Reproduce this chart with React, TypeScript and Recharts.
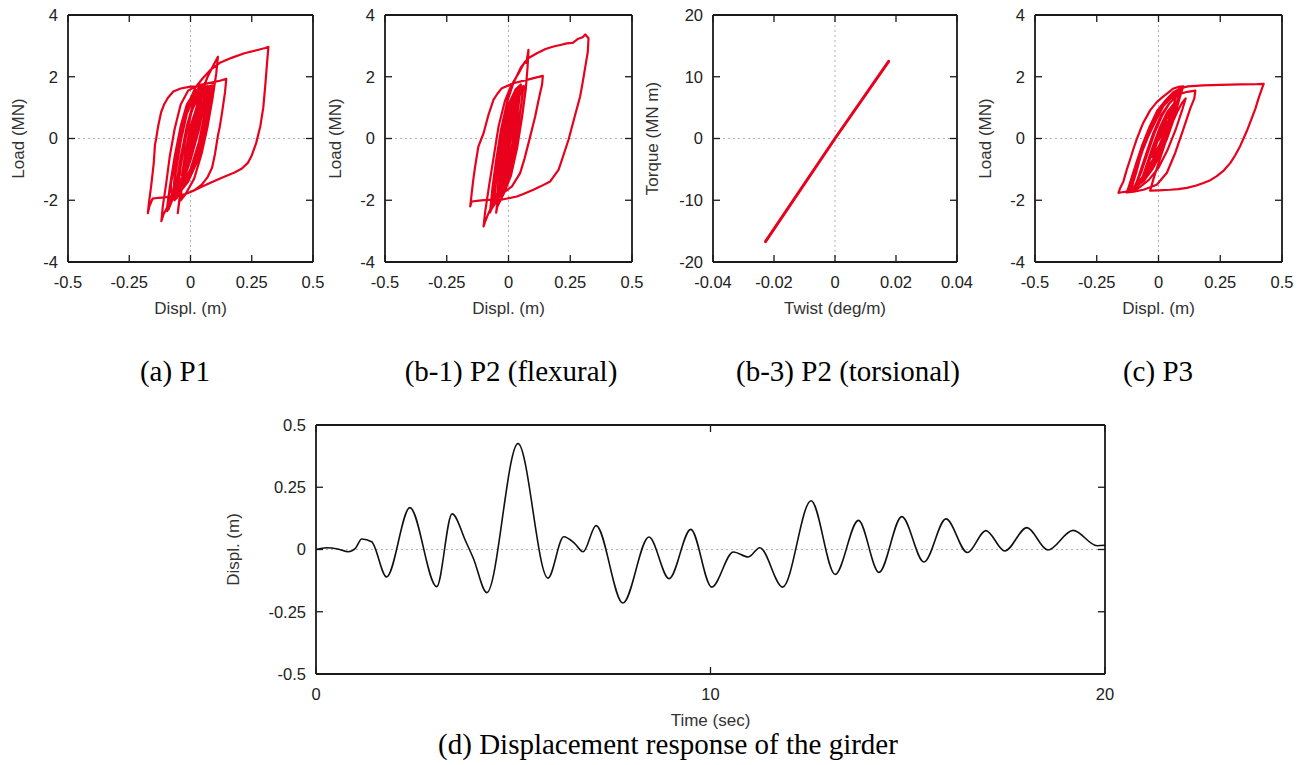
import React from 'react';
import { LineChart, Line, XAxis, YAxis, ReferenceLine } from 'recharts';

type Pt = [number, number];

const SANS = '"Liberation Sans", Arial, Helvetica, sans-serif';
const SERIF = '"Liberation Serif", "Times New Roman", serif';
const RED = '#e8001c';

// Tick values
const DISPL_TICKS = [-0.5, -0.25, 0, 0.25, 0.5];
const LOAD_TICKS = [-4, -2, 0, 2, 4];
const TWIST_TICKS = [-0.04, -0.02, 0, 0.02, 0.04];
const TORQUE_TICKS = [-20, -10, 0, 10, 20];
const TIME_TICKS = [0, 10, 20];
const GIRDER_TICKS = [-0.5, -0.25, 0, 0.25, 0.5];

// (a) P1 load-displacement path [displ (m), load (MN)]
const p1Path: Pt[] = [
  [0, 0], [0.012, 0.35], [-0.006, -0.2], [0.02, 0.55], [0.005, 0.1],
  [0.03, 0.9], [0.05, 1.4], [0.065, 1.6],
  [0.055, 1.1], [0.035, 0.3], [0, -0.7], [-0.03, -1.4], [-0.055, -1.8], [-0.065, -2.0],
  [-0.058, -1.5], [-0.04, -0.6], [-0.015, 0.4], [0.015, 1.1], [0.045, 1.55], [0.06, 1.65],
  [0.05, 1.0], [0.025, 0], [-0.01, -0.9], [-0.045, -1.6], [-0.075, -2.0], [-0.09, -2.3], [-0.095, -2.2],
  [-0.085, -1.6], [-0.065, -0.7], [-0.04, 0.3], [-0.01, 1.1], [0.02, 1.65], [0.05, 1.95], [0.085, 2.25],
  [0.12, 2.45], [0.17, 2.62], [0.22, 2.76], [0.27, 2.86], [0.305, 2.93], [0.318, 2.97],
  [0.313, 2.5], [0.305, 1.7], [0.297, 1.0], [0.285, 0.4], [0.268, -0.15], [0.25, -0.55], [0.235, -0.78],
  [0.21, -0.97], [0.18, -1.1], [0.14, -1.23], [0.1, -1.37], [0.05, -1.55], [0.01, -1.7], [-0.02, -1.8],
  [-0.05, -1.85], [-0.058, -1.95],
  [-0.05, -1.4], [-0.035, -0.5], [-0.015, 0.4], [0.01, 1.1], [0.035, 1.55], [0.06, 1.65], [0.08, 1.68],
  [0.07, 1.0], [0.05, 0.1], [0.02, -0.8], [-0.02, -1.5], [-0.06, -1.85], [-0.1, -1.9], [-0.13, -1.92],
  [-0.155, -1.95], [-0.168, -2.2], [-0.174, -2.42],
  [-0.17, -2.1], [-0.16, -1.5], [-0.15, -0.8], [-0.145, -0.2], [-0.14, 0], [-0.132, 0.4], [-0.12, 0.85],
  [-0.108, 1.1], [-0.092, 1.32], [-0.07, 1.52], [-0.04, 1.62], [0, 1.68], [0.04, 1.69], [0.08, 1.7],
  [0.07, 1.1], [0.05, 0.2], [0.02, -0.7], [-0.02, -1.4], [-0.06, -1.85], [-0.09, -2.15], [-0.11, -2.45], [-0.119, -2.68],
  [-0.113, -2.2], [-0.1, -1.5], [-0.085, -0.6], [-0.065, 0.3], [-0.04, 1.1], [-0.01, 1.55], [0.03, 1.72],
  [0.08, 1.8], [0.12, 1.87], [0.146, 1.93],
  [0.141, 1.5], [0.13, 0.9], [0.12, 0.4], [0.112, 0.1], [0.1, -0.5], [0.088, -0.95], [0.07, -1.25],
  [0.045, -1.5], [0.015, -1.68], [-0.02, -1.8], [-0.045, -1.95], [-0.052, -2.42],
  [-0.045, -2.0], [-0.03, -1.2], [-0.01, -0.3], [0.015, 0.6], [0.04, 1.4], [0.07, 2.0], [0.095, 2.4], [0.112, 2.65],
  [0.105, 2.1], [0.09, 1.3], [0.07, 0.4], [0.045, -0.5], [0.015, -1.3], [-0.02, -1.8], [-0.04, -2.0],
  [-0.035, -1.4], [-0.015, -0.4], [0.01, 0.6], [0.035, 1.3], [0.06, 1.6], [0.075, 1.65],
  [0.06, 0.9], [0.035, -0.1], [0, -1.0], [-0.04, -1.6], [-0.075, -1.85],
  [-0.08, -1.5], [-0.06, -0.5], [-0.035, 0.5], [0, 1.2], [0.04, 1.6], [0.09, 1.72],
  [0.08, 1.1], [0.06, 0.2], [0.03, -0.7], [-0.01, -1.4], [-0.05, -1.8], [-0.09, -2.05],
  [-0.08, -1.4], [-0.06, -0.4], [-0.03, 0.6], [0, 1.3], [0.03, 1.6], [0.07, 1.7],
  [0.065, 1.2], [0.05, 0.5], [0.03, -0.3], [0, -1.1], [-0.03, -1.6], [-0.07, -1.85],
  [-0.065, -1.2], [-0.045, -0.2], [-0.02, 0.7], [0.01, 1.3], [0.04, 1.6],
  [0.03, 0.8], [0.005, -0.3], [-0.03, -1.2], [-0.06, -1.7], [-0.085, -2.0], [-0.095, -2.35],
  [-0.085, -1.6], [-0.065, -0.6], [-0.04, 0.4], [-0.015, 1.1], [0.02, 1.55], [0.05, 1.68],
  [0.04, 0.9], [0.02, 0], [-0.01, -0.9], [-0.04, -1.5], [-0.07, -1.8],
  [-0.06, -1.1], [-0.04, -0.1], [-0.015, 0.8], [0.015, 1.35], [0.045, 1.55],
  [0.035, 0.7], [0.01, -0.3], [-0.02, -1.1], [-0.05, -1.6],
  [-0.04, -0.9], [-0.02, 0], [0.005, 0.9], [0.03, 1.3],
  [0.02, 0.5], [-0.005, -0.5], [-0.035, -1.2],
  [-0.02, -0.4], [0, 0.4], [0.025, 1.0],
  [0.01, 0.2], [-0.02, -0.7],
  [0, 0.1], [0.015, 0.6], [0, 0],
];

// (b-1) P2 flexural path [displ (m), load (MN)]
const p2FlexPath: Pt[] = [
  [0, 0], [0.01, 0.3], [-0.005, -0.15], [0.02, 0.6], [0.01, 0.3],
  [0.03, 1.0], [0.05, 1.5], [0.06, 1.65],
  [0.05, 1.0], [0.03, 0.2], [0, -0.8], [-0.03, -1.5], [-0.05, -1.9], [-0.06, -2.1],
  [-0.05, -1.4], [-0.035, -0.5], [-0.015, 0.4], [0.01, 1.1], [0.04, 1.55], [0.06, 1.7],
  [0.05, 1.0], [0.03, 0], [0, -1.0], [-0.03, -1.6], [-0.06, -2.1], [-0.075, -2.4],
  [-0.065, -1.6], [-0.05, -0.7], [-0.03, 0.3], [-0.005, 1.2], [0.02, 1.8], [0.05, 2.3], [0.08, 2.6],
  [0.115, 2.76], [0.15, 2.9], [0.182, 2.98], [0.21, 3.03], [0.236, 3.08], [0.26, 3.1], [0.28, 3.22],
  [0.3, 3.28], [0.311, 3.37], [0.324, 3.25],
  [0.321, 2.8], [0.311, 2.33], [0.3, 1.8], [0.29, 1.36], [0.27, 0.77], [0.243, -0.04], [0.22, -0.6],
  [0.203, -1.01], [0.169, -1.39], [0.13, -1.55], [0.101, -1.66], [0.06, -1.8], [0.034, -1.88],
  [-0.01, -1.95], [-0.04, -2.0],
  [-0.03, -1.3], [-0.015, -0.4], [0.005, 0.5], [0.03, 1.3], [0.055, 1.65], [0.07, 1.7],
  [0.06, 1.0], [0.04, 0.1], [0.01, -0.9], [-0.02, -1.6], [-0.05, -1.98], [-0.088, -1.99], [-0.12, -2.01],
  [-0.149, -2.04], [-0.155, -2.2],
  [-0.152, -2.0], [-0.149, -1.77], [-0.142, -1.3], [-0.135, -0.9], [-0.122, -0.26], [-0.101, 0.17],
  [-0.081, 0.77], [-0.061, 1.25], [-0.045, 1.45], [-0.027, 1.63], [0.02, 1.79], [0.074, 1.9], [0.11, 1.97], [0.139, 2.03],
  [0.136, 1.75], [0.128, 1.47], [0.118, 1.1], [0.108, 0.71], [0.081, -0.15], [0.065, -0.65], [0.047, -1.12],
  [0.014, -1.55], [-0.02, -1.75], [-0.06, -2.1], [-0.08, -2.4], [-0.095, -2.7], [-0.101, -2.85],
  [-0.095, -2.4], [-0.08, -1.6], [-0.06, -0.6], [-0.04, 0.4], [-0.015, 1.2], [0.01, 1.7], [0.04, 2.1],
  [0.06, 2.4], [0.068, 2.5], [0.072, 2.45], [0.081, 2.87],
  [0.077, 2.3], [0.07, 1.6], [0.055, 0.7], [0.035, -0.3], [0.01, -1.2], [-0.02, -1.8], [-0.045, -2.2], [-0.05, -2.4],
  [-0.04, -1.7], [-0.025, -0.8], [-0.005, 0.2], [0.02, 1.0], [0.045, 1.5], [0.07, 1.65],
  [0.058, 0.9], [0.04, 0], [0.015, -0.9], [-0.015, -1.6], [-0.045, -2.0], [-0.07, -2.3],
  [-0.06, -1.6], [-0.045, -0.7], [-0.025, 0.3], [0, 1.1], [0.03, 1.6], [0.05, 1.75],
  [0.04, 1.0], [0.02, 0], [-0.005, -0.9], [-0.035, -1.6], [-0.065, -2.1],
  [-0.055, -1.3], [-0.035, -0.3], [-0.01, 0.7], [0.02, 1.4], [0.045, 1.62],
  [0.035, 0.8], [0.015, -0.2], [-0.015, -1.1], [-0.045, -1.75],
  [-0.035, -0.9], [-0.015, 0.1], [0.01, 0.9], [0.035, 1.4],
  [0.025, 0.6], [0, -0.4], [-0.03, -1.3],
  [-0.015, -0.5], [0.005, 0.4], [0.025, 1.0],
  [0.01, 0.2], [-0.015, -0.7],
  [0, 0], [0.015, 0.5], [0.005, 0.1],
];

// (b-3) P2 torsional path [twist (deg/m), torque (MN m)]
const p2TorsPath: Pt[] = [
  [0, 0], [0.0176, 12.5], [0, 0], [-0.0228, -16.7], [0, 0],
];

// (c) P3 load-displacement path [displ (m), load (MN)]
const p3Path: Pt[] = [
  [0, 0], [0.01, 0.15], [-0.005, -0.08], [0.02, 0.35], [0.01, 0.2],
  [0.03, 0.6], [0.05, 0.95], [0.07, 1.2],
  [0.06, 0.9], [0.04, 0.4], [0, -0.4], [-0.04, -0.95], [-0.07, -1.3], [-0.09, -1.45],
  [-0.075, -1.1], [-0.05, -0.5], [-0.02, 0.2], [0.01, 0.75], [0.04, 1.1], [0.07, 1.35], [0.09, 1.45],
  [0.075, 1.0], [0.05, 0.35], [0.015, -0.4], [-0.025, -1.0], [-0.06, -1.38], [-0.1, -1.6], [-0.12, -1.68],
  [-0.105, -1.35], [-0.085, -0.9], [-0.065, -0.4], [-0.04, 0.1], [-0.01, 0.6], [0.02, 1.05], [0.05, 1.3],
  [0.08, 1.43], [0.11, 1.5], [0.149, 1.55],
  [0.145, 1.3], [0.128, 0.96], [0.101, 0.31], [0.068, -0.46], [0.034, -1.11], [-0.007, -1.5],
  [-0.061, -1.66], [-0.1, -1.72], [-0.128, -1.75],
  [-0.11, -1.3], [-0.09, -0.8], [-0.065, -0.2], [-0.035, 0.4], [-0.005, 0.9], [0.03, 1.25], [0.06, 1.5],
  [0.09, 1.63], [0.12, 1.69], [0.18, 1.72], [0.25, 1.74], [0.33, 1.75], [0.4, 1.76], [0.426, 1.77],
  [0.419, 1.62], [0.405, 1.3], [0.392, 0.96], [0.375, 0.6], [0.358, 0.25], [0.331, -0.24], [0.31, -0.55],
  [0.291, -0.79], [0.265, -1.03], [0.236, -1.22], [0.21, -1.35], [0.182, -1.44], [0.15, -1.53],
  [0.115, -1.6], [0.08, -1.64], [0.047, -1.66], [0, -1.68], [-0.034, -1.69],
  [-0.02, -1.3], [0, -0.8], [0.025, -0.2], [0.05, 0.4], [0.075, 0.85], [0.095, 1.15], [0.11, 1.3],
  [0.095, 0.9], [0.07, 0.3], [0.035, -0.4], [0, -0.95], [-0.04, -1.35], [-0.08, -1.6], [-0.101, -1.69],
  [-0.13, -1.72], [-0.155, -1.75], [-0.162, -1.76],
  [-0.155, -1.6], [-0.142, -1.39], [-0.13, -1.05], [-0.115, -0.68], [-0.1, -0.3], [-0.088, -0.02],
  [-0.075, 0.25], [-0.061, 0.52], [-0.045, 0.75], [-0.034, 0.91], [-0.007, 1.18], [0.015, 1.33],
  [0.034, 1.45], [0.061, 1.62], [0.08, 1.67], [0.1, 1.69],
  [0.085, 1.3], [0.065, 0.7], [0.035, 0], [-0.005, -0.7], [-0.045, -1.2], [-0.08, -1.5], [-0.11, -1.65],
  [-0.095, -1.2], [-0.075, -0.6], [-0.05, 0], [-0.02, 0.6], [0.01, 1.0], [0.04, 1.3], [0.07, 1.48], [0.09, 1.55],
  [0.075, 1.1], [0.05, 0.5], [0.015, -0.2], [-0.025, -0.9], [-0.06, -1.35], [-0.09, -1.58],
  [-0.11, -1.62], [-0.09, -1.1], [-0.07, -0.5], [-0.045, 0.1], [-0.015, 0.65], [0.02, 1.1], [0.055, 1.38], [0.085, 1.5],
  [0.07, 1.05], [0.045, 0.45], [0.01, -0.25], [-0.03, -0.95], [-0.07, -1.4], [-0.1, -1.6],
  [-0.07, -1.1], [-0.045, -0.5], [-0.015, 0.2], [0.015, 0.75], [0.045, 1.15], [0.07, 1.35],
  [0.055, 0.9], [0.03, 0.3], [-0.005, -0.4], [-0.04, -1.0], [-0.07, -1.38],
  [-0.05, -0.9], [-0.025, -0.3], [0.005, 0.35], [0.035, 0.85], [0.06, 1.1],
  [0.045, 0.6], [0.015, 0], [-0.02, -0.65], [-0.05, -1.05],
  [-0.03, -0.55], [0, 0.1], [0.03, 0.6], [0.05, 0.85],
  [0.035, 0.4], [0.005, -0.2], [-0.025, -0.6],
  [-0.005, -0.1], [0.02, 0.35], [0.035, 0.55],
  [0.02, 0.2], [0, -0.05],
];

// (d) Girder displacement time history
const girderTime = [
  0, 0.27, 0.55, 0.82, 1.0, 1.16, 1.41, 1.79, 2.38, 3.06, 3.45, 3.8, 3.99, 4.33, 5.12, 5.88,
  6.28, 6.56, 6.77, 7.1, 7.78, 8.44, 8.95, 9.5, 10.03, 10.58, 10.96, 11.25, 11.83, 12.55, 13.16,
  13.75, 14.27, 14.85, 15.41, 15.97, 16.51, 16.98, 17.46, 18.02, 18.55, 19.19, 19.8, 20,
];
const girderDispl = [
  0, 0.007, 0.002, -0.009, 0.005, 0.042, 0.031, -0.11, 0.168, -0.149, 0.143, 0.031, -0.036, -0.173, 0.425, -0.115,
  0.051, 0.024, -0.009, 0.096, -0.215, 0.05, -0.117, 0.081, -0.151, -0.01, -0.03, 0.007, -0.151, 0.196, -0.1,
  0.117, -0.092, 0.132, -0.05, 0.123, -0.012, 0.076, -0.006, 0.088, -0.002, 0.077, 0.015, 0.017,
];

const toRows = (p: Pt[]) => p.map(([x, y]) => ({ x, y }));
const girderRows = girderTime.map((t, i) => ({ x: t, y: girderDispl[i] }));

type PanelProps = {
  left: number;
  top: number;
  plotW: number;
  plotH: number;
  yAxisW: number;
  data: { x: number; y: number }[];
  xDomain: [number, number];
  xTicks: number[];
  yDomain: [number, number];
  yTicks: number[];
  xLabel: string;
  yLabel: string;
  yLabelDx: number;
  stroke: string;
  strokeWidth: number;
  curve: 'linear' | 'monotone';
  zeroX: boolean;
};

const FRAME_COLOR = '#1a1a1a';
const TICK_PX = 7;

function Panel(p: PanelProps) {
  const width = p.yAxisW + p.plotW + 16;
  const height = 15 + p.plotH + 68;
  const frame = { stroke: FRAME_COLOR, strokeWidth: 1.8 };
  const tickFont = { fill: '#222', fontSize: 16.5, fontFamily: SANS };
  const [x0, x1] = p.xDomain;
  const [y0, y1] = p.yDomain;
  const tx = ((x1 - x0) * TICK_PX) / p.plotW;
  const ty = ((y1 - y0) * TICK_PX) / p.plotH;
  const common = { xAxisId: 'b', yAxisId: 'l' } as const;
  const tickLines: React.ReactNode[] = [];
  p.xTicks.forEach((t, i) => {
    tickLines.push(
      <ReferenceLine key={`xb${i}`} {...common} segment={[{ x: t, y: y0 }, { x: t, y: y0 + ty }]} stroke={FRAME_COLOR} strokeWidth={1.3} />,
      <ReferenceLine key={`xt${i}`} {...common} segment={[{ x: t, y: y1 }, { x: t, y: y1 - ty }]} stroke={FRAME_COLOR} strokeWidth={1.3} />,
    );
  });
  p.yTicks.forEach((t, i) => {
    tickLines.push(
      <ReferenceLine key={`yl${i}`} {...common} segment={[{ x: x0, y: t }, { x: x0 + tx, y: t }]} stroke={FRAME_COLOR} strokeWidth={1.3} />,
      <ReferenceLine key={`yr${i}`} {...common} segment={[{ x: x1, y: t }, { x: x1 - tx, y: t }]} stroke={FRAME_COLOR} strokeWidth={1.3} />,
    );
  });
  return (
    <div style={{ position: 'absolute', left: p.left, top: p.top }}>
      <LineChart width={width} height={height} data={p.data} margin={{ top: 15, right: 16, left: 0, bottom: 0 }}>
        <XAxis
          xAxisId="b" type="number" dataKey="x" domain={p.xDomain} ticks={p.xTicks} interval={0}
          allowDataOverflow tickLine={false} tickSize={0} tickMargin={14} axisLine={frame} height={68}
          tick={tickFont}
          label={{ value: p.xLabel, position: 'center', dy: 12, fill: '#333', fontSize: 17, fontFamily: SANS }}
        />
        <YAxis
          yAxisId="l" type="number" domain={p.yDomain} ticks={p.yTicks} interval={0} allowDataOverflow
          tickLine={false} tickSize={0} tickMargin={10} axisLine={frame} width={p.yAxisW} tick={tickFont}
          label={{ value: p.yLabel, angle: -90, position: 'center', dx: p.yLabelDx, fill: '#333', fontSize: 17, fontFamily: SANS }}
        />
        {p.zeroX && (
          <ReferenceLine {...common} x={0} stroke="#b0b0b0" strokeWidth={1} strokeDasharray="2 3" />
        )}
        <ReferenceLine {...common} y={0} stroke="#b0b0b0" strokeWidth={1} strokeDasharray="2 3" />
        {tickLines}
        <ReferenceLine {...common} x={x1} stroke={FRAME_COLOR} strokeWidth={1.8} />
        <ReferenceLine {...common} y={y1} stroke={FRAME_COLOR} strokeWidth={1.8} />
        <Line
          {...common} dataKey="y" type={p.curve} stroke={p.stroke} strokeWidth={p.strokeWidth}
          dot={false} activeDot={false} isAnimationActive={false} strokeLinejoin="round" strokeLinecap="round"
        />
      </LineChart>
    </div>
  );
}

function Caption({ text, cx, top }: { text: string; cx: number; top: number }) {
  return (
    <div
      style={{
        position: 'absolute', left: cx - 300, top, width: 600, textAlign: 'center',
        fontFamily: SERIF, fontSize: 29, lineHeight: '29px', color: '#000', whiteSpace: 'nowrap',
      }}
    >
      {text}
    </div>
  );
}

export default function App() {
  return (
    <div style={{ position: 'relative', width: 1306, height: 765, background: '#fff', overflow: 'hidden' }}>
      <style>{'body{margin:0;background:#fff;}'}</style>
      <Panel
        left={0} top={0} plotW={245} plotH={247} yAxisW={68} data={toRows(p1Path)}
        xDomain={[-0.5, 0.5]} xTicks={DISPL_TICKS} yDomain={[-4, 4]} yTicks={LOAD_TICKS}
        xLabel="Displ. (m)" yLabel="Load (MN)" yLabelDx={-16} stroke={RED} strokeWidth={2.2} curve="linear" zeroX
      />
      <Panel
        left={317} top={0} plotW={247} plotH={247} yAxisW={68} data={toRows(p2FlexPath)}
        xDomain={[-0.5, 0.5]} xTicks={DISPL_TICKS} yDomain={[-4, 4]} yTicks={LOAD_TICKS}
        xLabel="Displ. (m)" yLabel="Load (MN)" yLabelDx={-16} stroke={RED} strokeWidth={2.2} curve="linear" zeroX
      />
      <Panel
        left={633} top={0} plotW={244} plotH={247} yAxisW={80} data={toRows(p2TorsPath)}
        xDomain={[-0.04, 0.04]} xTicks={TWIST_TICKS} yDomain={[-20, 20]} yTicks={TORQUE_TICKS}
        xLabel="Twist (deg/m)" yLabel="Torque (MN m)" yLabelDx={-21} stroke={RED} strokeWidth={3} curve="linear" zeroX
      />
      <Panel
        left={967} top={0} plotW={247} plotH={247} yAxisW={68} data={toRows(p3Path)}
        xDomain={[-0.5, 0.5]} xTicks={DISPL_TICKS} yDomain={[-4, 4]} yTicks={LOAD_TICKS}
        xLabel="Displ. (m)" yLabel="Load (MN)" yLabelDx={-16} stroke={RED} strokeWidth={2.2} curve="linear" zeroX
      />
      <Panel
        left={206} top={410} plotW={789} plotH={249} yAxisW={110} data={girderRows}
        xDomain={[0, 20]} xTicks={TIME_TICKS} yDomain={[-0.5, 0.5]} yTicks={GIRDER_TICKS}
        xLabel="Time (sec)" yLabel="Displ. (m)" yLabelDx={-28} stroke="#111" strokeWidth={1.6} curve="monotone" zeroX={false}
      />
      <Caption text="(a) P1" cx={175} top={357} />
      <Caption text="(b-1) P2 (flexural)" cx={511} top={357} />
      <Caption text="(b-3) P2 (torsional)" cx={848} top={357} />
      <Caption text="(c) P3" cx={1158} top={357} />
      <Caption text="(d) Displacement response of the girder" cx={668} top={730} />
    </div>
  );
}
